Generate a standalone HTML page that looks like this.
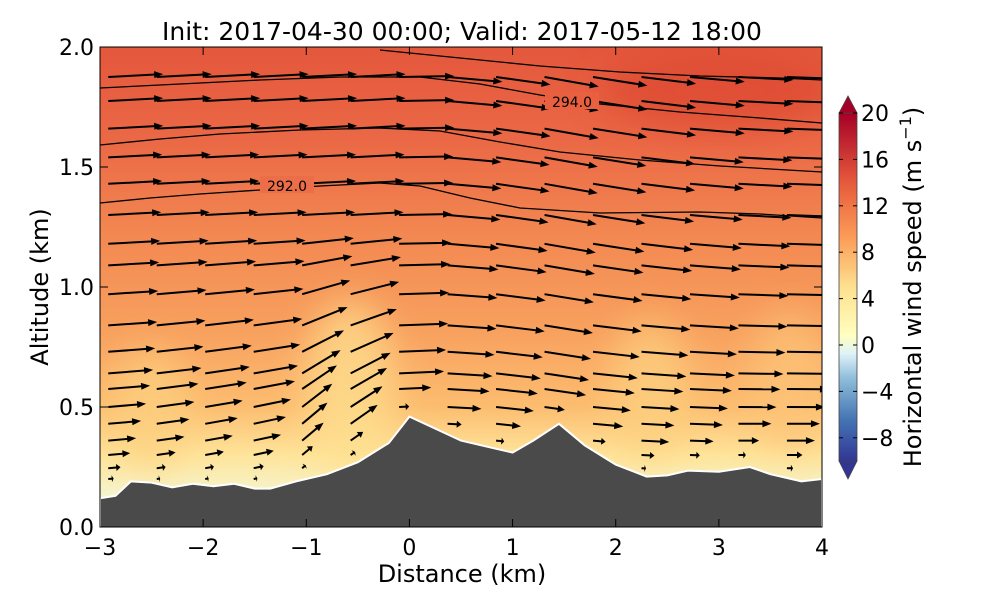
<!DOCTYPE html>
<html><head><meta charset="utf-8"><style>
body{margin:0;background:#fff;width:1000px;height:600px;overflow:hidden}
svg text{font-family:"DejaVu Sans","Liberation Sans",sans-serif;fill:#000}
</style></head><body>
<svg id="chart" width="1000" height="600" viewBox="0 0 1000 600" xmlns="http://www.w3.org/2000/svg">
<defs>
<linearGradient id="bg" x1="0" y1="0" x2="0" y2="1">
<stop offset="0" stop-color="#e4573c"/><stop offset="0.2" stop-color="#eb6946"/>
<stop offset="0.4" stop-color="#f38952"/><stop offset="0.6" stop-color="#f8a25f"/>
<stop offset="0.75" stop-color="#fcbd70"/><stop offset="0.85" stop-color="#fee49a"/>
<stop offset="0.95" stop-color="#f4f8d8"/><stop offset="1" stop-color="#e6f4f0"/>
</linearGradient>
<linearGradient id="cb" x1="0" y1="1" x2="0" y2="0">
<stop offset="0" stop-color="#313695"/><stop offset="0.12" stop-color="#4575b4"/>
<stop offset="0.24" stop-color="#91bfdb"/><stop offset="0.31" stop-color="#e0f3f8"/>
<stop offset="0.36" stop-color="#ffffbf"/><stop offset="0.5" stop-color="#fee090"/>
<stop offset="0.64" stop-color="#fc9d59"/><stop offset="0.8" stop-color="#e65a3c"/>
<stop offset="1" stop-color="#a50026"/>
</linearGradient>
<filter id="blur"><feGaussianBlur stdDeviation="18"/></filter>
<clipPath id="plotclip"><rect x="100" y="47" width="722" height="480"/></clipPath>
</defs>
<text x="462" y="40" font-size="25" text-anchor="middle">Init: 2017-04-30 00:00; Valid: 2017-05-12 18:00</text>
<g clip-path="url(#plotclip)">
<rect x="100" y="47" width="722" height="480" fill="url(#bg)"/>
<g filter="url(#blur)" opacity="0.75">
<ellipse cx="350" cy="390" rx="45" ry="90" fill="#fee090"/>
<ellipse cx="150" cy="410" rx="40" ry="60" fill="#fdd080"/>
<ellipse cx="650" cy="390" rx="40" ry="70" fill="#fdd080"/>
<ellipse cx="790" cy="380" rx="40" ry="70" fill="#fdc478"/>
<ellipse cx="720" cy="90" rx="120" ry="40" fill="#dd4a33"/>
</g>
<g id="contours" fill="none" stroke="#000" stroke-width="1.3"></g>
<g id="arrows"></g>
<path id="terrain" fill="#4a4a4a" stroke="#fff" stroke-width="2"/>
</g>
<rect x="260" y="176" width="54" height="17" fill="#ec6e48"/>
<text x="287" y="191" font-size="14" text-anchor="middle">292.0</text>
<rect x="545" y="92" width="54" height="17" fill="#e8603f"/>
<text x="572" y="107" font-size="14" text-anchor="middle">294.0</text>
<rect x="100" y="47" width="722" height="480" fill="none" stroke="#000" stroke-width="1"/>
<g id="axes"></g>
<text x="462" y="582" font-size="24" text-anchor="middle">Distance (km)</text>
<text transform="translate(48,287) rotate(-90)" font-size="24" text-anchor="middle">Altitude (km)</text>
<g>
<path d="M839,113 L848,96 L857,113 Z" fill="#a50026" stroke="#444" stroke-width="0.8"/>
<path d="M839,461 L848,479 L857,461 Z" fill="#313695" stroke="#444" stroke-width="0.8"/>
<rect x="839" y="113" width="18" height="348" fill="url(#cb)" stroke="#444" stroke-width="0.8"/>
<g id="cbticks"></g>
<text transform="translate(921,287) rotate(-90)" font-size="24" text-anchor="middle">Horizontal wind speed (m s<tspan font-size="16" dy="-10">−1</tspan><tspan dy="10">)</tspan></text>
</g>
</svg>
<script>
const xTicks=[-3,-2,-1,0,1,2,3,4];
const yTicks=[0.0,0.5,1.0,1.5,2.0];
const cbTicks=[20,16,12,8,4,0,-4,-8];
const terrainX=[-3,-2.85,-2.7,-2.5,-2.3,-2.1,-1.9,-1.7,-1.5,-1.35,-1.1,-0.8,-0.5,-0.2,0,0.2,0.5,0.8,1.0,1.2,1.45,1.7,2.0,2.3,2.5,2.7,3.0,3.3,3.5,3.8,4.0];
const terrainZ=[0.12,0.13,0.19,0.185,0.165,0.18,0.17,0.18,0.16,0.16,0.19,0.22,0.27,0.35,0.46,0.42,0.36,0.33,0.31,0.36,0.43,0.34,0.26,0.21,0.215,0.235,0.23,0.25,0.22,0.19,0.20];
const arrowCols=[-2.92,-2.45,-1.98,-1.51,-1.04,-0.57,-0.1,0.37,0.84,1.31,1.78,2.25,2.72,3.19,3.66];
const arrowLevels=[1.875,1.775,1.66,1.54,1.43,1.3,1.18,1.09,0.97,0.84,0.73,0.64,0.575,0.5,0.43,0.36,0.3,0.245,0.2];
const colAngleUp=[3,3,3,3,3,3,1,-5,-8,-10,-9,-7,-5,-3,-2];
const colAngleLow=[5,8,10,12,40,35,3,-3,-6,-8,-5,-3,-2,0,0];
const levelLen=[55,55,55,54,54,53,52,51,50,49,47,45,42,38,33,28,22,18,14];
const X=v=>100+(v+3)*722/7, Y=v=>527-v*240;
const ns="http://www.w3.org/2000/svg";
function mk(t,a,p){const e=document.createElementNS(ns,t);for(const k in a)e.setAttribute(k,a[k]);p.appendChild(e);return e;}
let d="M"+X(-3)+","+Y(-0.1);
terrainX.forEach((x,i)=>d+=" L"+X(x).toFixed(1)+","+Y(terrainZ[i]).toFixed(1));
d+=" L"+X(4)+","+Y(-0.1)+" Z";
document.getElementById('terrain').setAttribute('d',d);
function tz(x){for(let i=0;i<terrainX.length-1;i++){if(x>=terrainX[i]&&x<=terrainX[i+1]){const f=(x-terrainX[i])/(terrainX[i+1]-terrainX[i]);return terrainZ[i]+f*(terrainZ[i+1]-terrainZ[i]);}}return 0.2;}
const ag=document.getElementById('arrows');
arrowCols.forEach((c,ci)=>{arrowLevels.forEach((z,li)=>{
 const g=tz(c+0.1); if(z<g+0.02)return;
 const w=Math.max(0,Math.min(1,(1.25-z)/0.8));
 const ang=colAngleUp[ci]*(1-w)+colAngleLow[ci]*w;
 let L=levelLen[li]; const near=z-g; if(near<0.15) L=L*Math.max(0.25,near/0.15);
 const x0=X(c),y0=Y(z),r=ang*Math.PI/180,x1=x0+L*Math.cos(r),y1=y0-L*Math.sin(r);
 const grp=mk('g',{},ag);
 
 
 const ux=Math.cos(r),uy=-Math.sin(r),h=Math.min(9,L*0.35);
 mk('line',{x1:x0,y1:y0,x2:x1-ux*h*0.6,y2:y1-uy*h*0.6,stroke:'#000','stroke-width':2},grp);
 mk('path',{d:`M${x1},${y1} L${x1-ux*h-uy*3.5},${y1-uy*h+ux*3.5} L${x1-ux*h+uy*3.5},${y1-uy*h-ux*3.5} Z`,fill:'#000'},grp);
});});
const contourLines=[
 [[100,203],[150,198],[200,194],[260,190],[320,186],[380,183],[420,186],[470,198],[520,208],[600,213],[700,212],[760,214],[822,218]],
 [[100,145],[160,139],[220,134],[300,130],[380,128],[440,131],[500,142],[560,152],[640,160],[720,166],[822,172]],
 [[100,88],[180,84],[260,80],[340,77],[420,77],[480,84],[540,95],[600,104],[680,112],[760,118],[822,123]],
 [[380,50],[460,58],[540,66],[620,72],[700,76],[780,78],[822,80]]
];
const cg=document.getElementById('contours');
contourLines.forEach(pts=>{const p=mk('polyline',{points:pts.map(q=>q.join(',')).join(' ')},cg);
 
 });
const ax=document.getElementById('axes');
xTicks.forEach(v=>{const x=X(v);
 mk('line',{x1:x,y1:527,x2:x,y2:519,stroke:'#000'},ax);mk('line',{x1:x,y1:47,x2:x,y2:55,stroke:'#000'},ax);
 const t=mk('text',{x:x,y:555,'font-size':22,'text-anchor':'middle'},ax);t.textContent=(v<0?'−':'')+Math.abs(v);
 
 });
yTicks.forEach(v=>{const y=Y(v);
 mk('line',{x1:100,y1:y,x2:108,y2:y,stroke:'#000'},ax);mk('line',{x1:822,y1:y,x2:814,y2:y,stroke:'#000'},ax);
 const t=mk('text',{x:94,y:y+8,'font-size':22,'text-anchor':'end'},ax);t.textContent=v.toFixed(1);
 
 });
const cbt=document.getElementById('cbticks');
cbTicks.forEach(v=>{const y=113+(20-v)*11.6;
 mk('line',{x1:839,y1:y,x2:843,y2:y,stroke:'#000'},cbt);mk('line',{x1:857,y1:y,x2:853,y2:y,stroke:'#000'},cbt);
 const t=mk('text',{x:861,y:y+8,'font-size':22},cbt);t.textContent=(v<0?'−':'')+Math.abs(v);
 
 });
</script>
</body></html>
